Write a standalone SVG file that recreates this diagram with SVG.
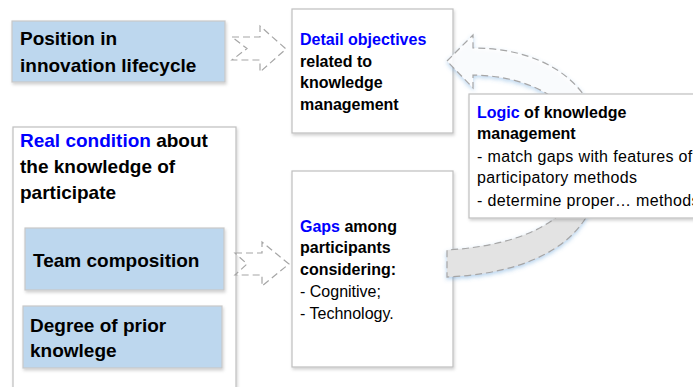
<svg xmlns="http://www.w3.org/2000/svg" width="693" height="387" viewBox="0 0 693 387">
<defs>
<filter id="sh" x="-10%" y="-10%" width="130%" height="130%">
<feDropShadow dx="1" dy="2" stdDeviation="1.5" flood-color="#000" flood-opacity="0.18"/>
</filter>
<filter id="glow" x="-20%" y="-20%" width="140%" height="140%">
<feDropShadow dx="0" dy="2" stdDeviation="2" flood-color="#5b9bd5" flood-opacity="0.45"/>
</filter>
</defs>
<style>
.box{fill:#fff;stroke:#bfbfbf;stroke-width:1.2}
.blue{fill:#bdd7ee;stroke:#c8c8c8;stroke-width:1.2}
.arr{stroke:#a6a6a6;stroke-width:1.2;stroke-dasharray:7,4;stroke-linejoin:miter}
.big{font-family:"Liberation Sans",Arial,sans-serif;font-size:19px;font-weight:bold;fill:#000}
.sm{font-family:"Liberation Sans",Arial,sans-serif;font-size:16px;font-weight:bold;fill:#000}
.reg{font-family:"Liberation Sans",Arial,sans-serif;font-size:16px;font-weight:normal;fill:#000}
.hl{fill:#0000ff}
</style>

<g id="position">
<rect class="blue" x="12" y="21" width="213" height="61" filter="url(#sh)"/>
<text class="big" x="20" y="45">Position in</text>
<text class="big" x="20" y="72">innovation lifecycle</text>
</g>

<g id="detail">
<rect class="box" x="292" y="9" width="161" height="124" filter="url(#sh)"/>
<text class="sm" x="300" y="45"><tspan class="hl">Detail objectives</tspan></text>
<text class="sm" x="300" y="67">related to</text>
<text class="sm" x="300" y="88">knowledge</text>
<text class="sm" x="300" y="110">management</text>
</g>

<g id="real">
<rect class="box" x="13" y="127" width="223" height="280" filter="url(#sh)"/>
<text class="big" x="20" y="147"><tspan class="hl">Real condition</tspan> about</text>
<text class="big" x="20" y="173">the knowledge of</text>
<text class="big" x="20" y="199">participate</text>
</g>

<g id="team">
<rect class="blue" x="25" y="228" width="199" height="62" filter="url(#sh)"/>
<text class="big" x="33" y="267">Team composition</text>
</g>

<g id="degree">
<rect class="blue" x="23" y="306" width="199" height="62" filter="url(#sh)"/>
<text class="big" x="30" y="332">Degree of prior</text>
<text class="big" x="30" y="357">knowlege</text>
</g>

<g id="gaps">
<rect class="box" x="292" y="171" width="161" height="196" filter="url(#sh)"/>
<text class="sm" x="300" y="232"><tspan class="hl">Gaps</tspan> among</text>
<text class="sm" x="300" y="253">participants</text>
<text class="sm" x="300" y="275">considering:</text>
<text class="reg" x="300" y="297">- Cognitive;</text>
<text class="reg" x="300" y="319">- Technology.</text>
</g>

<g id="connectors">
<path class="arr" fill="#fff" d="M232,37 L260,37 L260,26 L286,49 L260,72 L260,60 L232,60 L247,48.5 Z"/>
<path class="arr" fill="#fff" d="M235,253 L262,253 L262,242 L289,264 L262,286 L262,275 L235,275 L247,264 Z"/>
<g filter="url(#glow)">
<path class="arr" fill="#fff" fill-opacity="0.85" d="M447,61 L473,35 L473,48 C555,48 605,95 600,155 L585,160 C585,105 535,76 473,75 L473,88 Z"/>
<path class="arr" fill="#e3e3e3" d="M600,155 C605,225 555,272 447,277 L447,250 C530,245 585,215 585,160 Z"/>
</g>
</g>

<g id="logic">
<rect class="box" x="469" y="94" width="240" height="124" filter="url(#sh)"/>
<text class="sm" x="477" y="118"><tspan class="hl">Logic</tspan> of knowledge</text>
<text class="sm" x="477" y="139">management</text>
<text class="reg" x="477" y="162" letter-spacing="0.35">- match gaps with features of</text>
<text class="reg" x="477" y="183" letter-spacing="0.35">participatory methods</text>
<text class="reg" x="477" y="206" letter-spacing="0.35">- determine proper… methods</text>
</g>
</svg>
